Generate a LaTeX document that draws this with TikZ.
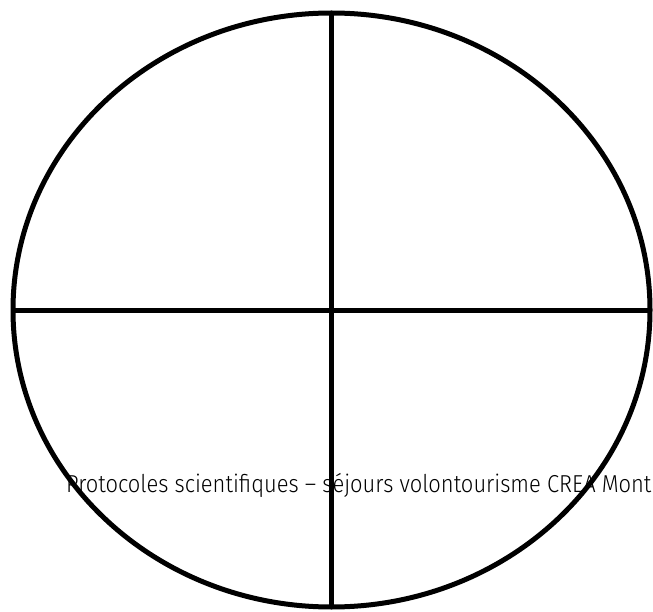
\documentclass[tikz,border=0pt]{standalone}
\usepackage{fontspec}
\setmainfont{Fira Sans Light}[FakeStretch=0.895]
\usepackage{tikz}
\usetikzlibrary{shapes.geometric}

\begin{document}
\begin{tikzpicture}[
    x=1pt, y=-1pt,
    disc/.style={draw=black,ellipse,line width=5pt,outer sep=0pt,inner sep=0pt,
                 minimum width=637pt,minimum height=594pt},
    axis/.style={draw=black,line width=5pt},
    caption/.style={anchor=base west,inner sep=0pt,font=\fontsize{24.5}{28}\selectfont}
  ]
    \useasboundingbox (0,0) rectangle (653,612);
    \clip (0,0) rectangle (653,612);

    \node[disc] (wheel) at (331.5,310) {};
    \draw[axis] (wheel.north) -- (wheel.south);
    \draw[axis] (wheel.west) -- (wheel.east);

    \node[caption] (title) at (66,492) {Protocoles scientifiques – séjours volontourisme CREA Mont};
  \end{tikzpicture}
\end{document}
